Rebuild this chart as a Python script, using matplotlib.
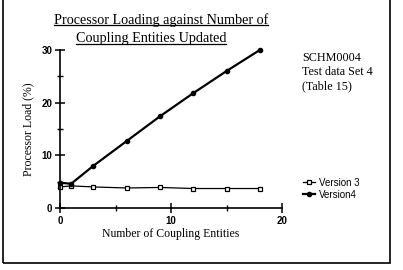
import matplotlib
matplotlib.use("Agg")
import matplotlib.pyplot as plt
from matplotlib.lines import Line2D
from matplotlib.patches import Rectangle
from matplotlib.ticker import MultipleLocator

entities = [0, 1, 3, 6, 9, 12, 15, 18]
version3 = [4.0, 4.2, 4.0, 3.8, 3.9, 3.7, 3.7, 3.7]
version4 = [4.8, 4.6, 8.0, 12.7, 17.4, 21.8, 26.0, 30.0]

title_lines = ["Processor Loading against Number of", "Coupling Entities Updated"]
note_lines = ["SCHM0004", "Test data Set 4", "(Table 15)"]

SERIF = "Liberation Serif"
SANS = "Liberation Sans"

W, H = 403, 270
fig = plt.figure(figsize=(W / 100, H / 100), dpi=100)
fig.patch.set_facecolor("white")

# outer frame round the whole panel
fig.patches.append(Rectangle((2.5 / W, 1 - 263 / H), 387 / W, 263 / H + 0.05,
                             transform=fig.transFigure, fill=False,
                             edgecolor="black", linewidth=1.2))

ax = fig.add_axes([60 / W, 1 - 208 / H, 222 / W, 158 / H])
ax.plot(entities, version3, color="black", linewidth=0.9, marker="s",
        markersize=3, markerfacecolor="white", markeredgecolor="black",
        markeredgewidth=0.9, clip_on=False, label="Version 3")
ax.plot(entities, version4, color="black", linewidth=1.6, marker="o",
        markersize=3, clip_on=False, label="Version4")

ax.set_xlim(0, 20)
ax.set_ylim(0, 30)
for side in ("top", "right"):
    ax.spines[side].set_visible(False)
for side in ("left", "bottom"):
    ax.spines[side].set_linewidth(1.2)
ax.xaxis.set_major_locator(MultipleLocator(10))
ax.xaxis.set_minor_locator(MultipleLocator(5))
ax.yaxis.set_major_locator(MultipleLocator(10))
ax.yaxis.set_minor_locator(MultipleLocator(5))
ax.tick_params(which="major", direction="inout", length=7, width=1.1,
               labelsize=7, pad=2)
ax.tick_params(which="minor", direction="inout", length=4, width=1.0)
for lab in ax.get_xticklabels() + ax.get_yticklabels():
    lab.set_fontfamily(SANS)
    lab.set_fontweight("bold")

ax.set_xlabel("Number of Coupling Entities", fontfamily=SERIF, fontsize=8.5,
              labelpad=2)
ax.set_ylabel("Processor Load (%)", fontfamily=SERIF, fontsize=8.5, labelpad=5)

leg = ax.legend(loc="upper left", bbox_to_anchor=(298 / W, 1 - 173 / H),
                bbox_transform=fig.transFigure, frameon=False,
                prop={"family": SANS, "size": 7}, handlelength=1.2,
                handletextpad=0.5, labelspacing=0.2, borderpad=0)

title_texts = []
for i, (line, xc) in enumerate(zip(title_lines, [161, 151])):
    t = fig.text(xc / W, 1 - (20 + 19 * i) / H, line, ha="center",
                 va="center", fontfamily=SERIF, fontsize=10.2)
    title_texts.append(t)

for i, line in enumerate(note_lines):
    fig.text(302 / W, 1 - (58 + 14 * i) / H, line, ha="left", va="center",
             fontfamily=SERIF, fontsize=8.7)

# underline the title lines
fig.canvas.draw()
renderer = fig.canvas.get_renderer()
inv = fig.transFigure.inverted()
for t in title_texts:
    bb = t.get_window_extent(renderer)
    (x0, y0), (x1, _) = inv.transform([[bb.x0, bb.y0], [bb.x1, bb.y1]])
    fig.add_artist(Line2D([x0, x1], [y0 + 1.5 / H, y0 + 1.5 / H],
                          transform=fig.transFigure, color="black",
                          linewidth=0.9))

fig.savefig("out.png", dpi=100)
